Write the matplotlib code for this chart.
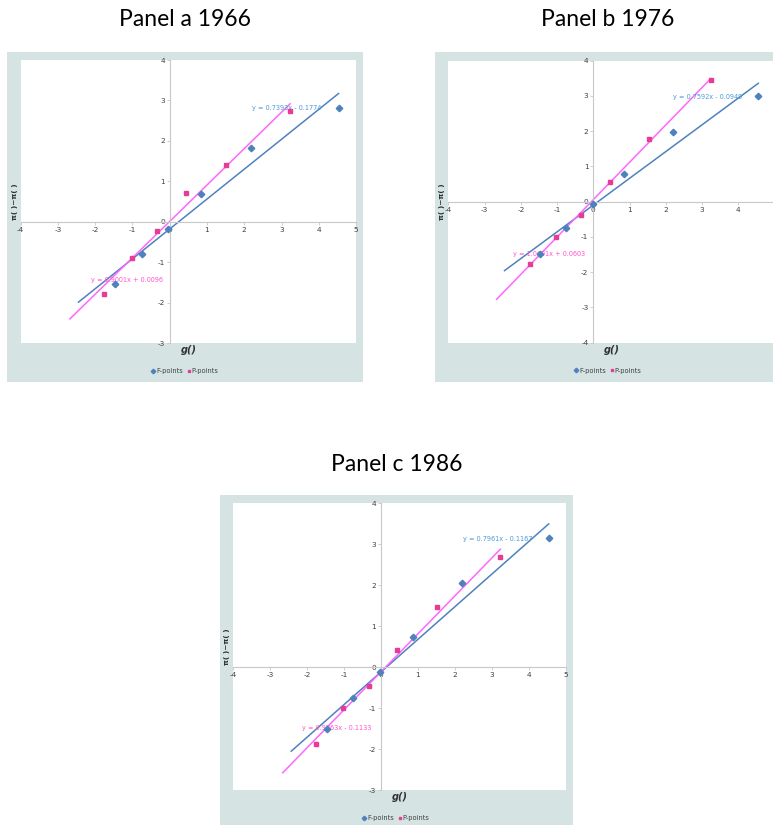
import numpy as np
import matplotlib
matplotlib.use("Agg")
from matplotlib import pyplot as plt

plt.rcParams['font.family'] = ['Liberation Sans Narrow', 'DejaVu Sans Condensed', 'DejaVu Sans']
plt.rcParams['axes.unicode_minus'] = False

# panel titles
titles = ["Panel a 1966", "Panel b 1976", "Panel c 1986"]

# F-points (blue diamonds)
fx_a = [-1.47, -0.75, -0.04, 0.83, 2.17, 4.53]
fy_a = [-1.53, -0.79, -0.17, 0.69, 1.83, 2.82]
fx_b = [-1.47, -0.75, -0.02, 0.85, 2.19, 4.55]
fy_b = [-1.47, -0.74, -0.07, 0.79, 1.98, 3.01]
fx_c = [-1.45, -0.75, -0.04, 0.86, 2.18, 4.54]
fy_c = [-1.52, -0.76, -0.11, 0.74, 2.05, 3.15]

# P-points (pink squares)
px_a = [-1.76, -1.02, -0.34, 0.44, 1.52, 3.23]
py_a = [-1.78, -0.90, -0.22, 0.70, 1.41, 2.74]
px_b = [-1.76, -1.02, -0.34, 0.45, 1.53, 3.24]
py_b = [-1.77, -1.00, -0.38, 0.57, 1.77, 3.44]
px_c = [-1.75, -1.02, -0.33, 0.44, 1.52, 3.23]
py_c = [-1.88, -1.00, -0.45, 0.42, 1.48, 2.69]

# linear trendlines: slope, intercept, x range
f_fit = [(0.7393, -0.1774), (0.7592, -0.0949), (0.7961, -0.1167)]
p_fit = [(0.9001, 0.0096), (1.0601, 0.0603), (0.9263, -0.1133)]
f_range = [(-2.45, 4.53), (-2.45, 4.55), (-2.43, 4.54)]
p_range = [(-2.68, 3.23), (-2.67, 3.24), (-2.66, 3.23)]

ylims = [(-3, 4), (-4, 4), (-3, 4)]
xtick_max = [5, 4, 5]   # panel b is cropped at the right, its "5" is off the page

BOX = '#d5e3e3'
BLUE = '#4f81bd'
BLUE_TXT = '#4a9ad8'
PINK = '#e63c96'
PINK_LINE = '#ff66ff'
PINK_TXT = '#ff55cc'

fig = plt.figure(figsize=(7.73, 8.25), dpi=100)

# outer grey-teal chart boxes (x0, y0, w, h in figure fraction)
boxes = [(0.009, 0.537, 0.4605, 0.40), (0.5627, 0.537, 0.45, 0.40), (0.2846, 0.0, 0.4567, 0.40)]
for b in boxes:
    bg = fig.add_axes([b[0], b[1], b[2], b[3]], zorder=-5)
    bg.set_facecolor(BOX)
    bg.set_xticks([])
    bg.set_yticks([])
    for s in bg.spines.values():
        s.set_visible(False)

axes_pos = [[0.0268, 0.5842, 0.4338, 0.3430],
            [0.5800, 0.5846, 0.4221, 0.3418],
            [0.3018, 0.0424, 0.4300, 0.3475]]
title_pos = [(0.2393, 0.9758), (0.7866, 0.9758), (0.5136, 0.4364)]

# equation label anchors (left edge, centre y) in data coords
f_lab = [(2.20, 2.82), (2.21, 2.96), (2.21, 3.13)]
p_lab = [(-2.12, -1.43), (-2.23, -1.49), (-2.15, -1.49)]

fxs = [fx_a, fx_b, fx_c]
fys = [fy_a, fy_b, fy_c]
pxs = [px_a, px_b, px_c]
pys = [py_a, py_b, py_c]

for i in range(3):
    ax = fig.add_axes(axes_pos[i], zorder=1)
    ax.set_facecolor('white')
    ax.set_xlim(-4, 5)
    ax.set_ylim(*ylims[i])
    ax.set_xticks(np.arange(-4, xtick_max[i] + 1))
    ax.set_yticks(np.arange(ylims[i][0], ylims[i][1] + 1))
    for s in ['top', 'right']:
        ax.spines[s].set_visible(False)
    ax.spines['left'].set_position(('data', 0))
    ax.spines['bottom'].set_position(('data', 0))
    ax.spines['left'].set_color('#c8c8c8')
    ax.spines['bottom'].set_color('#c8c8c8')
    ax.tick_params(colors='#c8c8c8', labelcolor='#404040', labelsize=5.3, length=2, width=0.6, pad=1.5)

    # trendlines
    fr = np.array(f_range[i])
    ax.plot(fr, f_fit[i][0] * fr + f_fit[i][1], color=BLUE, lw=1.1, zorder=2)
    pr = np.array(p_range[i])
    ax.plot(pr, p_fit[i][0] * pr + p_fit[i][1], color=PINK_LINE, lw=1.1, zorder=2)

    f_eq = "y = %.4fx %s %.4f" % (f_fit[i][0], '-' if f_fit[i][1] < 0 else '+', abs(f_fit[i][1]))
    p_eq = "y = %.4fx %s %.4f" % (p_fit[i][0], '-' if p_fit[i][1] < 0 else '+', abs(p_fit[i][1]))
    ax.text(f_lab[i][0], f_lab[i][1], f_eq, color=BLUE_TXT, fontsize=4.7, ha='left', va='center', zorder=3)
    ax.text(p_lab[i][0], p_lab[i][1], p_eq, color=PINK_TXT, fontsize=4.7, ha='left', va='center', zorder=3)

    ax.plot(fxs[i], fys[i], linestyle='none', marker='D', markersize=3.3, color=BLUE, label='F-points', zorder=4)
    ax.plot(pxs[i], pys[i], linestyle='none', marker='s', markersize=3.0, color=PINK, label='P-points', zorder=4)

    ax.text(-0.018, 0.5, "π( )−π( )", transform=ax.transAxes, rotation=90, ha='center', va='center',
            fontsize=5.3, fontweight='bold', color='#303030')
    ax.text(0.5, -0.025, "g()", transform=ax.transAxes, ha='center', va='center',
            fontsize=7, fontweight='bold', fontstyle='italic', color='#303030')
    ax.legend(loc='center', bbox_to_anchor=(0.49, -0.099), ncol=2, frameon=False, fontsize=4.8,
              handlelength=0.5, handletextpad=0.15, columnspacing=0.7, markerscale=0.7,
              labelcolor='#404040')

    fig.text(title_pos[i][0], title_pos[i][1], titles[i], ha='center', va='center',
             fontsize=16.5, family=['Lato', 'DejaVu Sans'])

fig.savefig('out.png', dpi=100)
